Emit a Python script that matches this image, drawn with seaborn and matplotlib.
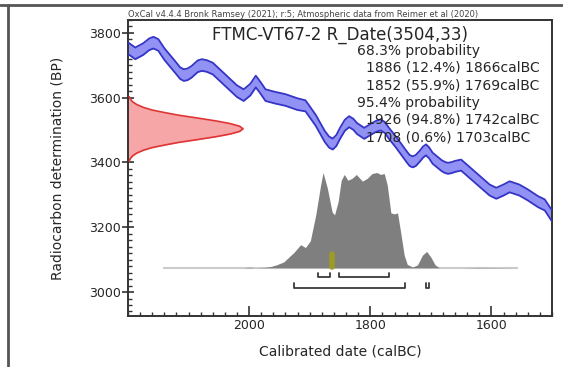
import numpy as np
import seaborn as sns
import matplotlib.pyplot as plt
from matplotlib.ticker import MultipleLocator, FixedLocator
from matplotlib.lines import Line2D

# Calibration curve (IntCal20)
cal_date = [2200, 2188, 2175, 2165, 2158, 2150, 2140, 2120, 2114, 2108,
            2102, 2095, 2085, 2078, 2070, 2060, 2040, 2020, 2009, 1998,
            1989, 1981, 1973, 1957, 1940, 1920, 1907, 1890, 1875, 1868,
            1862, 1856, 1850, 1842, 1835, 1828, 1822, 1810, 1797, 1790,
            1783, 1776, 1770, 1758, 1740, 1735, 1730, 1725, 1718, 1713,
            1708, 1703, 1697, 1682, 1677, 1672, 1666, 1660, 1650, 1625,
            1603, 1592, 1580, 1570, 1562, 1554, 1540, 1523, 1512, 1500]
curve_bp = [3753, 3737, 3750, 3765, 3770, 3763, 3735, 3690, 3676, 3670,
            3672, 3680, 3697, 3701, 3698, 3690, 3655, 3620, 3608, 3625,
            3650, 3630, 3608, 3600, 3593, 3580, 3575, 3530, 3480, 3463,
            3457, 3468, 3490, 3515, 3526, 3518, 3505, 3490, 3505, 3512,
            3516, 3508, 3492, 3464, 3418, 3406, 3402, 3406, 3420, 3432,
            3439, 3430, 3413, 3390, 3385, 3382, 3384, 3388, 3392, 3351,
            3315, 3305, 3315, 3325, 3320, 3315, 3300, 3279, 3269, 3235]
curve_err = [18, 18, 18, 18, 18, 18, 18, 18, 18, 18,
             18, 18, 18, 18, 18, 18, 18, 18, 18, 18,
             18, 18, 18, 18, 18, 18, 17, 17, 17, 17,
             17, 17, 17, 17, 17, 17, 17, 17, 17, 17,
             17, 17, 17, 17, 17, 17, 17, 17, 17, 17,
             17, 17, 17, 17, 17, 17, 17, 17, 17, 17,
             17, 17, 17, 17, 17, 17, 17, 17, 17, 17]

# Radiocarbon determination R_Date(3504,33) - profile as drawn on the y axis
red_bp = [3603, 3595, 3587, 3579, 3570, 3562, 3554, 3546, 3537, 3528, 3520, 3512, 3504,
          3496, 3488, 3480, 3471, 3462, 3454, 3446, 3438, 3429, 3421, 3413, 3405]
red_w = [0.011, 0.022, 0.042, 0.076, 0.135, 0.21, 0.32, 0.44, 0.61, 0.77, 0.89, 0.97, 1.0,
         0.97, 0.89, 0.77, 0.61, 0.44, 0.32, 0.21, 0.135, 0.076, 0.042, 0.022, 0.011]
red_span = 190  # years of width for the peak

# Calibrated (posterior) distribution
post_date = [2143, 2060, 2010, 2000, 1990, 1975, 1965, 1955, 1943, 1926,
             1915, 1907, 1899, 1890, 1882, 1878, 1871, 1863, 1859, 1853,
             1848, 1843, 1837, 1830, 1823, 1813, 1805, 1797, 1789, 1783,
             1777, 1772, 1766, 1760, 1755, 1750, 1744, 1739, 1730, 1722,
             1714, 1707, 1700, 1693, 1686, 1650, 1620, 1556]
post_prob = [0, 0, 0, 0.006, 0, 0.004, 0.012, 0.03, 0.06, 0.16,
             0.24, 0.21, 0.28, 0.55, 0.86, 0.99, 0.83, 0.58, 0.55, 0.69,
             0.91, 0.97, 0.91, 0.93, 0.97, 0.90, 0.93, 0.98, 0.99, 0.97,
             0.98, 0.86, 0.57, 0.56, 0.57, 0.375, 0.13, 0.035, 0.007, 0.03,
             0.13, 0.17, 0.11, 0.03, 0, 0, 0.004, 0]
post_base = 3075
post_height = 297
median_date = 1864

# hpd ranges
range68 = [(1886, 1866), (1852, 1769)]
range95 = [(1926, 1742), (1708, 1703)]

x_ticks = [2000, 1800, 1600]
title = "FTMC-VT67-2 R_Date(3504,33)"
header = "OxCal v4.4.4 Bronk Ramsey (2021); r:5; Atmospheric data from Reimer et al (2020)"
prob_lines = [("68.3% probability", 0),
              ("1886 (12.4%) 1866calBC", 1),
              ("1852 (55.9%) 1769calBC", 1),
              ("95.4% probability", 0),
              ("1926 (94.8%) 1742calBC", 1),
              ("1708 (0.6%) 1703calBC", 1)]

sns.set_style("white")
plt.rcParams['font.family'] = ['DejaVu Sans']
txt_col = "#262626"

fig = plt.figure(figsize=(5.63, 3.67), dpi=100)
ax = fig.add_axes([128 / 563, 1 - 316 / 367, 424 / 563, 296 / 367])

cd = np.array(cal_date)
cb = np.array(curve_bp)
ce = np.array(curve_err)

# blue band
ax.fill_between(cd, cb - ce, cb + ce, color="#9292f4", lw=0, zorder=2)
for edge in (cb + ce, cb - ce):
    sns.lineplot(x=cd, y=edge, color="#3434c6", lw=1.3, ax=ax, zorder=3,
                 solid_joinstyle="round")

# red date profile
rb = np.array(red_bp)
rw = 2200 - np.array(red_w) * red_span
ax.fill_betweenx(rb, 2200, rw, color="#f6a6a6", lw=0, zorder=2)
ax.plot(rw, rb, color="#e03434", lw=1.2, zorder=3)

# posterior
pdt = np.array(post_date)
ptop = post_base + np.array(post_prob) * post_height
ax.hlines(post_base, pdt.min(), pdt.max(), color="#cccccc", lw=1.5, zorder=2)
ax.fill_between(pdt, post_base, ptop, color="#7f7f7f", lw=0, zorder=4)
ax.plot([median_date, median_date], [post_base + 3, post_base + 42],
        color="#9c9c24", lw=4, solid_capstyle="round", zorder=5)

# range brackets
for rng, y0 in [(range68, 3045), (range95, 3014)]:
    for a, b in rng:
        ax.plot([a, a, b, b], [y0 + 15, y0, y0, y0 + 15], color="#3a3a3a", lw=1.3, zorder=5)

ax.set_xlim(2200, 1500)
ax.set_ylim(2926, 3840)
ax.xaxis.set_major_locator(FixedLocator(x_ticks))
ax.xaxis.set_minor_locator(MultipleLocator(20))
ax.yaxis.set_major_locator(MultipleLocator(200))
ax.yaxis.set_minor_locator(MultipleLocator(20))
ax.tick_params(axis="x", which="major", direction="in", length=7, width=1.2,
               color="#333333", labelsize=9, labelcolor=txt_col, pad=2)
ax.tick_params(axis="x", which="minor", direction="in", length=3, width=1, color="#333333")
ax.tick_params(axis="y", which="major", direction="inout", length=8, width=1.2,
               color="#333333", labelsize=9, labelcolor=txt_col, pad=1)
ax.tick_params(axis="y", which="minor", direction="in", length=3, width=1, color="#333333")
ax.tick_params(bottom=True, left=True, which="both")
for s in ax.spines.values():
    s.set_color("#333333")
    s.set_linewidth(1.4)

ax.set_xlabel("Calibrated date (calBC)", fontsize=10, color=txt_col, labelpad=9)
ax.set_ylabel("Radiocarbon determination (BP)", fontsize=10, color=txt_col, labelpad=18)

ax.text(0.0, 1.004, header, transform=ax.transAxes, fontsize=6.0, color="#444444",
        ha="left", va="bottom")
ax.text(0.5, (316 - 39.7) / 296, title, transform=ax.transAxes, fontsize=12,
        color=txt_col, ha="center", va="baseline", zorder=6)
for i, (line, indent) in enumerate(prob_lines):
    py = 54.7 + 17.3 * i
    xx = (356.7 - 128) / 424 if indent == 0 else (366 - 128) / 424
    ax.text(xx, (316 - py) / 296, line, transform=ax.transAxes, fontsize=10,
            color=txt_col, ha="left", va="baseline", zorder=6)

# frame lines of the surrounding cell
fig.add_artist(Line2D([8 / 563, 8 / 563], [0, 1 - 5 / 367], color="#555555", lw=2))
fig.add_artist(Line2D([0, 1], [1 - 5 / 367, 1 - 5 / 367], color="#555555", lw=2))

fig.savefig("out.png", dpi=100)
